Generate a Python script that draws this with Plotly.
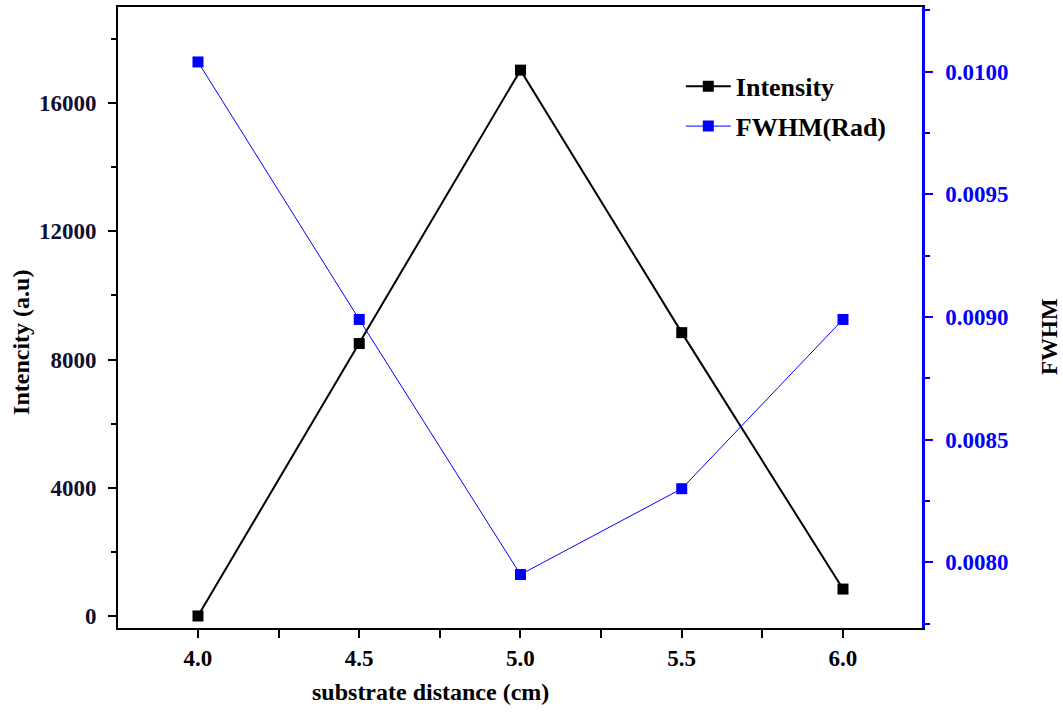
import plotly.graph_objects as go

distance = [4.0, 4.5, 5.0, 5.5, 6.0]
intensity = [0, 8500, 17030, 8840, 840]
fwhm = [0.01004, 0.00899, 0.00795, 0.00830, 0.00899]

FONT = "Liberation Serif"

fig = go.Figure()
fig.add_trace(go.Scatter(
    x=distance, y=intensity, name="<b>Intensity</b>", mode="lines+markers",
    line=dict(color="black", width=2), legendgroup="a",
    marker=dict(symbol="square", size=11, color="black"),
))
fig.add_trace(go.Scatter(
    x=distance, y=fwhm, name="<b>FWHM(Rad)</b>", mode="lines+markers", yaxis="y2",
    line=dict(color="#0000ff", width=1), legendgroup="b",
    marker=dict(symbol="square", size=11, color="#0000ff"),
))

fig.update_layout(
    width=1063, height=713,
    margin=dict(l=118, r=141, t=5, b=85),
    plot_bgcolor="white", paper_bgcolor="white",
    font=dict(family=FONT, size=23, color="black"),
    showlegend=True,
    legend=dict(x=0.70, y=0.91, xanchor="left", yanchor="top",
                bgcolor="rgba(0,0,0,0)", font=dict(size=26, family=FONT),
                itemwidth=45, traceorder="grouped", tracegroupgap=3),
    xaxis=dict(
        range=[3.752, 6.245], tickvals=[4.0, 4.5, 5.0, 5.5, 6.0],
        ticktext=["<b>4.0</b>", "<b>4.5</b>", "<b>5.0</b>", "<b>5.5</b>", "<b>6.0</b>"],
        ticks="outside", ticklen=8, tickwidth=2, tickcolor="black",
        minor=dict(dtick=0.25, tick0=0, ticks="outside", ticklen=8, tickwidth=2, tickcolor="black"),
        showline=True, linecolor="black", linewidth=2, mirror=True,
        showgrid=False, zeroline=False,
    ),
    yaxis=dict(
        range=[-375, 19000], tickvals=[0, 4000, 8000, 12000, 16000],
        ticktext=["<b>0</b>", "<b>4000</b>", "<b>8000</b>", "<b>12000</b>", "<b>16000</b>"],
        ticks="outside", ticklen=8, tickwidth=2, tickcolor="black",
        tickfont=dict(color="#101030"), ticklabelstandoff=7,
        minor=dict(dtick=2000, tick0=0, ticks="outside", ticklen=5, tickwidth=2, tickcolor="black"),
        showline=True, linecolor="black", linewidth=2,
        showgrid=False, zeroline=False,
    ),
    yaxis2=dict(
        overlaying="y", side="right", anchor="x",
        range=[0.007732, 0.010264],
        tickvals=[0.0080, 0.0085, 0.0090, 0.0095, 0.0100],
        ticktext=["<b>0.0080</b>", "<b>0.0085</b>", "<b>0.0090</b>", "<b>0.0095</b>", "<b>0.0100</b>"],
        ticks="outside", ticklen=8, tickwidth=2, tickcolor="#0000ff",
        tickfont=dict(color="#0000ff"), ticklabelstandoff=8,
        minor=dict(dtick=0.00025, tick0=0, ticks="outside", ticklen=5, tickwidth=2, tickcolor="#0000ff"),
        showline=True, linecolor="#0000ff", linewidth=2.5,
        showgrid=False, zeroline=False,
    ),
    annotations=[
        dict(text="<b>substrate distance (cm)</b>", xref="paper", yref="paper",
             x=(430 - 118) / 804, y=-(692 - 628) / 623, xanchor="center", yanchor="middle",
             showarrow=False, font=dict(size=24)),
        dict(text="<b>Intencity (a.u)</b>", xref="paper", yref="paper",
             x=-(118 - 21) / 804, y=(628 - 342) / 623, xanchor="center", yanchor="middle",
             textangle=-90, showarrow=False, font=dict(size=24)),
        dict(text="<b>FWHM</b>", xref="paper", yref="paper",
             x=1 + (1050 - 922) / 804, y=(628 - 336) / 623, xanchor="center", yanchor="middle",
             textangle=-90, showarrow=False, font=dict(size=23)),
    ],
)

fig.write_html("out.html")
